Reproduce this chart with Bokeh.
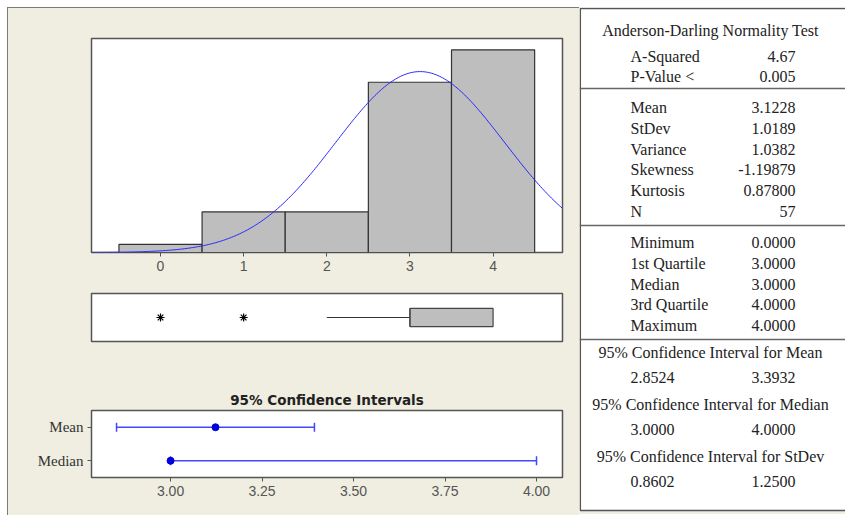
import numpy as np
from bokeh.plotting import figure
from bokeh.layouts import row, column
from bokeh.models import Range1d, FactorRange, FixedTicker, NumeralTickFormatter
from bokeh.core.properties import value
from bokeh.embed import file_html
from bokeh.resources import INLINE

# ---------------- data ----------------
bin_centers = [0, 1, 2, 3, 4]
bin_counts = [1, 5, 5, 21, 25]
n_obs = 57
mean_val = 3.1228
stdev_val = 1.0189
q1_val, median_val, q3_val = 3.0, 3.0, 4.0
whisker_low = 2.0
outliers = [0.0, 1.0]

ci_names = ["Mean", "Median"]
ci_points = [3.1228, 3.0]
ci_low = [2.8524, 3.0]
ci_high = [3.3932, 4.0]

hist_ticks = [0, 1, 2, 3, 4]
ci_ticks = [3.0, 3.25, 3.5, 3.75, 4.0]

ad_title = "Anderson-Darling Normality Test"
ad_labels = ["A-Squared", "P-Value <"]
ad_values = ["4.67", "0.005"]
desc_labels = ["Mean", "StDev", "Variance", "Skewness", "Kurtosis", "N"]
desc_values = ["3.1228", "1.0189", "1.0382", "-1.19879", "0.87800", "57"]
quant_labels = ["Minimum", "1st Quartile", "Median", "3rd Quartile", "Maximum"]
quant_values = ["0.0000", "3.0000", "3.0000", "4.0000", "4.0000"]
ci_headings = ["95% Confidence Interval for Mean",
               "95% Confidence Interval for Median",
               "95% Confidence Interval for StDev"]
ci_low_txt = ["2.8524", "3.0000", "0.8602"]
ci_high_txt = ["3.3932", "4.0000", "1.2500"]

# ---------------- style ----------------
BEIGE = "#F0EEE0"
FRAME = "#555555"
BAR = "#BEBEBE"
BLUE = "#4646FF"
LW = 571

common = dict(output_backend="svg", toolbar_location=None,
              background_fill_color="white", border_fill_color=BEIGE,
              outline_line_color=FRAME, outline_line_width=1.5,
              min_border_left=83, min_border_right=17)

# ---------------- histogram ----------------
xr = Range1d(-0.83, 4.835)
hist = figure(width=LW, height=272, x_range=xr, y_range=Range1d(0, 26.4),
              y_axis_location=None, min_border_top=30, min_border_bottom=28,
              **common)
hist.grid.visible = False
binw = bin_centers[1] - bin_centers[0]
hist.quad(left=[c - binw / 2 for c in bin_centers],
          right=[c + binw / 2 for c in bin_centers],
          bottom=0, top=bin_counts,
          fill_color=BAR, line_color="#333333", line_width=1.2)
xs = np.linspace(xr.start, xr.end, 300)
ys = n_obs * binw * np.exp(-0.5 * ((xs - mean_val) / stdev_val) ** 2) / (stdev_val * np.sqrt(2 * np.pi))
hist.line(xs, ys, line_color="#2828FF", line_width=1)
ax = hist.xaxis[0]
ax.ticker = FixedTicker(ticks=hist_ticks)
ax.axis_line_color = None
ax.major_tick_out = 4
ax.major_tick_in = 0
ax.major_tick_line_color = FRAME
ax.minor_tick_line_color = None
ax.major_label_text_font = "Liberation Sans"
ax.major_label_text_font_size = "14px"
ax.major_label_text_color = "#555555"
ax.major_label_standoff = 4

# ---------------- boxplot ----------------
box = figure(width=LW, height=80, x_range=xr, y_range=Range1d(0, 1),
             x_axis_location=None, y_axis_location=None,
             min_border_top=13, min_border_bottom=19, **common)
box.grid.visible = False
box.segment(x0=[whisker_low], y0=[0.5], x1=[q1_val], y1=[0.5],
            line_color="#333333", line_width=1.2)
box.quad(left=[q1_val], right=[q3_val], bottom=[0.31], top=[0.69],
         fill_color=BAR, line_color="#444444", line_width=1.2)
box.segment(x0=[median_val], y0=[0.31], x1=[median_val], y1=[0.69],
            line_color="#444444", line_width=1.2)
box.scatter(x=outliers, y=[0.5] * len(outliers), marker="asterisk",
            size=8, line_color="black", line_width=1.2)

# ---------------- confidence intervals ----------------
ci = figure(width=LW, height=155, x_range=Range1d(2.784, 4.071),
            y_range=FactorRange(factors=ci_names[::-1]),
            min_border_top=50, min_border_bottom=38,
            title="95% Confidence Intervals", **common)
ci.grid.visible = False
ci.title.align = "center"
ci.title.text_font = "DejaVu Sans"
ci.title.text_font_size = "13.5px"
ci.title.text_font_style = "bold"
ci.title.text_color = "#222222"
ci.title.standoff = 6
ci.segment(x0=ci_low, y0=ci_names, x1=ci_high, y1=ci_names,
           line_color=BLUE, line_width=1.5)
ci.scatter(x=ci_low + ci_high, y=ci_names + ci_names, marker="dash",
           angle=np.pi / 2, size=9, line_color=BLUE, line_width=1.5)
ci.scatter(x=ci_points, y=ci_names, marker="circle", size=7,
           fill_color="#0000DD", line_color="#0000DD")
bx = ci.xaxis[0]
bx.ticker = FixedTicker(ticks=ci_ticks)
bx.formatter = NumeralTickFormatter(format="0.00")
by = ci.yaxis[0]
for a in (bx, by):
    a.axis_line_color = None
    a.major_tick_out = 4
    a.major_tick_in = 0
    a.major_tick_line_color = FRAME
    a.minor_tick_line_color = None
    a.major_label_standoff = 4
bx.major_label_text_font = "Liberation Sans"
bx.major_label_text_font_size = "14px"
bx.major_label_text_color = "#555555"
by.major_label_text_font = "Liberation Serif"
by.major_label_text_font_size = "15px"
by.major_label_text_color = "#333333"

# ---------------- statistics panel ----------------
SW, SH = 266, 507
st = figure(width=SW, height=SH, x_range=Range1d(0, SW), y_range=Range1d(SH, 0),
            x_axis_location=None, y_axis_location=None, min_border=0,
            output_backend="svg", toolbar_location=None,
            background_fill_color=BEIGE, border_fill_color=BEIGE,
            outline_line_color=None)
st.grid.visible = False
st.quad(left=[0.8], right=[SW + 5], top=[1], bottom=[503],
        fill_color="white", line_color=FRAME, line_width=1.5)
seps = [81, 218, 332]
st.segment(x0=[0] * 3, x1=[SW] * 3, y0=seps, y1=seps,
           line_color="#666666", line_width=1.5)

LBL_X, VAL_X, MID_X = 51, 216, 131
font = dict(text_font=value("Liberation Serif"), text_font_size="16px",
            text_color="#222222", text_baseline="middle")
ROW = 20.8

st.text(x=[MID_X], y=[23], text=[ad_title], text_align="center", **font)
y_ad = [49 + i * 20 for i in range(len(ad_labels))]
st.text(x=[LBL_X] * len(ad_labels), y=y_ad, text=ad_labels, text_align="left", **font)
st.text(x=[VAL_X] * len(ad_values), y=y_ad, text=ad_values, text_align="right", **font)

y_desc = [100 + i * ROW for i in range(len(desc_labels))]
st.text(x=[LBL_X] * len(desc_labels), y=y_desc, text=desc_labels, text_align="left", **font)
st.text(x=[VAL_X] * len(desc_values), y=y_desc, text=desc_values, text_align="right", **font)

y_q = [235 + i * ROW for i in range(len(quant_labels))]
st.text(x=[LBL_X] * len(quant_labels), y=y_q, text=quant_labels, text_align="left", **font)
st.text(x=[VAL_X] * len(quant_values), y=y_q, text=quant_values, text_align="right", **font)

y_h = [345 + i * 52 for i in range(len(ci_headings))]
y_v = [y + 25 for y in y_h]
st.text(x=[MID_X] * len(ci_headings), y=y_h, text=ci_headings, text_align="center", **font)
st.text(x=[LBL_X] * len(ci_low_txt), y=y_v, text=ci_low_txt, text_align="left", **font)
st.text(x=[VAL_X] * len(ci_high_txt), y=y_v, text=ci_high_txt, text_align="right", **font)

left = column(hist, box, ci, styles={"background-color": BEIGE,
                                      "border-top": "1px solid #7A7A7A",
                                      "border-left": "1px solid #7A7A7A"})
layout = row(left, st, margin=(7, 0, 0, 7))
open("out.html", "w").write(file_html(layout, INLINE))
